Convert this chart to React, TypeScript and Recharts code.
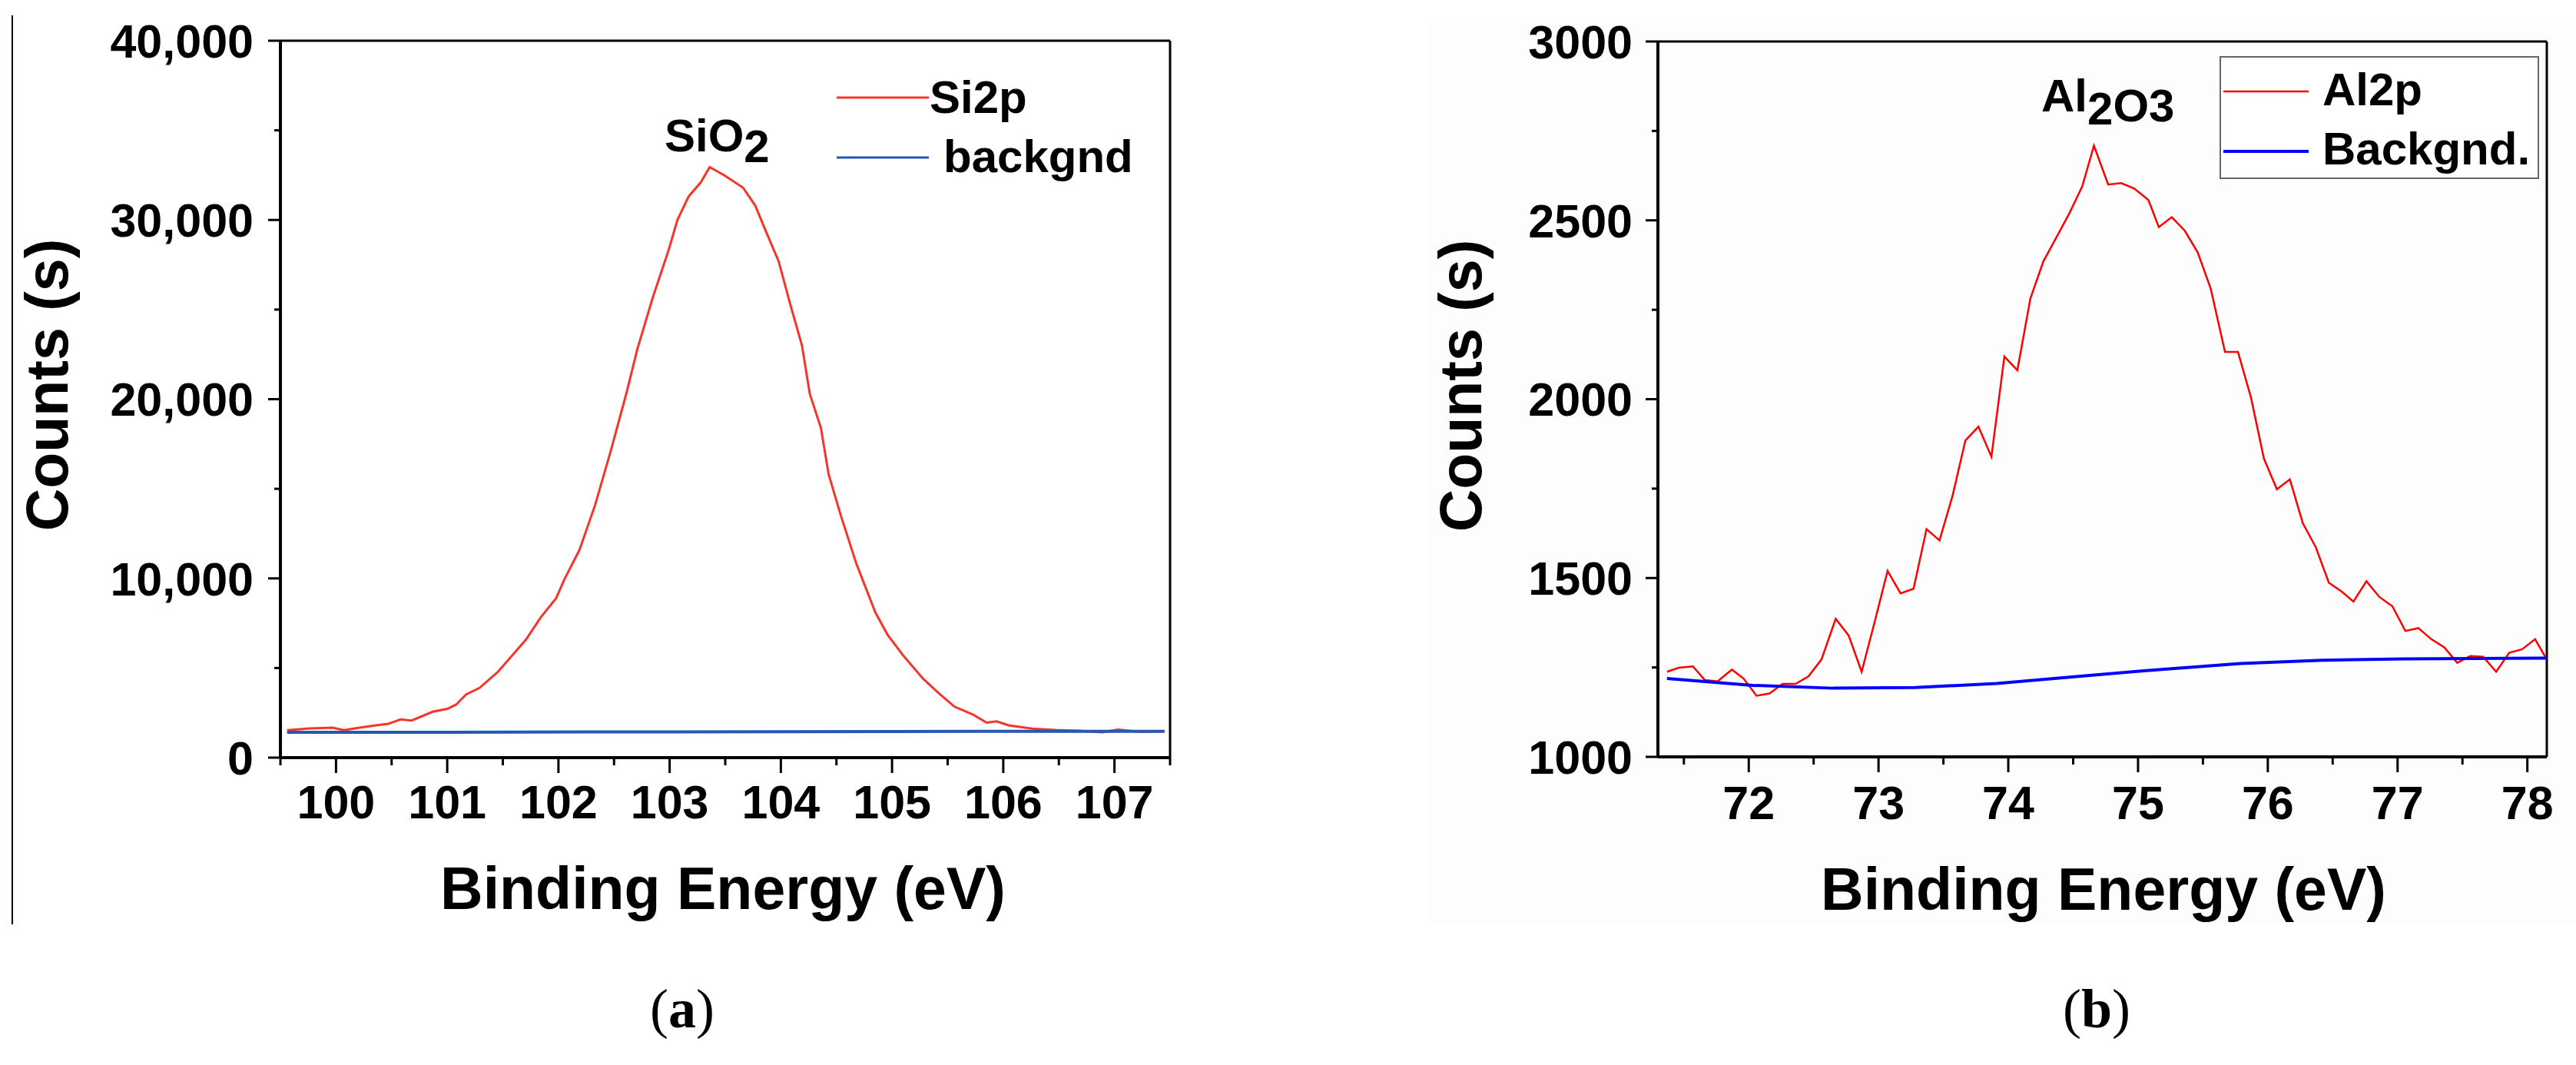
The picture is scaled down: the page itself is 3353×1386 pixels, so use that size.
import React from 'react';
import { LineChart, Line, XAxis, YAxis, ReferenceLine, Legend } from 'recharts';

// ---- panel (a): Si2p ----
const siEnergy = [
  99.56, 99.76, 99.97, 100.07, 100.21, 100.37, 100.47, 100.58, 100.68, 100.87,
  101.0, 101.08, 101.17, 101.29, 101.45, 101.58, 101.71, 101.84, 101.98, 102.05,
  102.19, 102.33, 102.47, 102.61, 102.71, 102.85, 102.99, 103.07, 103.17, 103.28,
  103.36, 103.49, 103.66, 103.77, 103.87, 103.98, 104.08, 104.19, 104.26, 104.36,
  104.43, 104.54, 104.68, 104.85, 104.96, 105.1, 105.28, 105.42, 105.56, 105.73,
  105.85, 105.94, 106.05, 106.26, 106.47, 106.68, 106.89, 107.03, 107.24, 107.45,
];
const siCounts = [
  1530, 1630, 1670, 1530, 1670, 1815, 1890, 2130, 2070, 2560,
  2720, 2960, 3530, 3890, 4750, 5670, 6600, 7820, 8900, 9900,
  11600, 14100, 17100, 20300, 22800, 25700, 28300, 30000, 31300, 32100,
  32950, 32500, 31800, 30800, 29300, 27700, 25400, 23000, 20300, 18400,
  15800, 13500, 10800, 8100, 6850, 5700, 4400, 3600, 2850, 2400,
  1950, 2020, 1800, 1620, 1540, 1500, 1420, 1560, 1440, 1480,
];
const siBgEnergy = [99.56, 101.0, 103.0, 105.0, 107.45];
const siBgCounts = [1410, 1420, 1440, 1460, 1470];
const siXTicks = [99.5, 100, 100.5, 101, 101.5, 102, 102.5, 103, 103.5, 104, 104.5, 105, 105.5, 106, 106.5, 107, 107.5];
const siYTicks = [0, 5000, 10000, 15000, 20000, 25000, 30000, 35000, 40000];

// ---- panel (b): Al2p ----
const alEnergy = [
  71.37, 71.46, 71.57, 71.66, 71.76, 71.87, 71.96, 72.06, 72.16, 72.26,
  72.36, 72.46, 72.56, 72.67, 72.77, 72.87, 72.97, 73.07, 73.17, 73.27,
  73.37, 73.47, 73.57, 73.67, 73.77, 73.87, 73.97, 74.07, 74.17, 74.27,
  74.37, 74.47, 74.57, 74.66, 74.77, 74.87, 74.97, 75.08, 75.16, 75.26,
  75.36, 75.46, 75.56, 75.67, 75.77, 75.87, 75.97, 76.07, 76.17, 76.27,
  76.37, 76.47, 76.57, 76.66, 76.76, 76.86, 76.96, 77.06, 77.16, 77.26,
  77.36, 77.46, 77.56, 77.66, 77.76, 77.86, 77.96, 78.06, 78.15,
];
const alCounts = [
  1238, 1249, 1253, 1215, 1211, 1244, 1219, 1171, 1177, 1204,
  1204, 1225, 1272, 1386, 1339, 1238, 1377, 1520, 1457, 1470,
  1637, 1605, 1729, 1885, 1923, 1839, 2119, 2081, 2281, 2385,
  2452, 2519, 2595, 2709, 2600, 2604, 2589, 2557, 2481, 2509,
  2471, 2410, 2309, 2132, 2132, 2005, 1834, 1748, 1776, 1653,
  1586, 1487, 1462, 1434, 1491, 1447, 1421, 1352, 1360, 1329,
  1306, 1263, 1282, 1280, 1238, 1291, 1301, 1329, 1272,
];
const alBgEnergy = [71.37, 72.03, 72.65, 73.28, 73.91, 74.54, 75.16, 75.79, 76.42, 77.05, 78.15];
const alBgCounts = [1219, 1200, 1192, 1194, 1205, 1225, 1244, 1261, 1270, 1274, 1276];
const alXTicks = [71.5, 72, 72.5, 73, 73.5, 74, 74.5, 75, 75.5, 76, 76.5, 77, 77.5, 78];
const alYTicks = [1000, 1250, 1500, 1750, 2000, 2250, 2500, 2750, 3000];

const siData = siEnergy.map((e, i) => ({ e, c: siCounts[i] }));
const siBgData = siBgEnergy.map((e, i) => ({ e, c: siBgCounts[i] }));
const alData = alEnergy.map((e, i) => ({ e, c: alCounts[i] }));
const alBgData = alBgEnergy.map((e, i) => ({ e, c: alBgCounts[i] }));

const SANS = '"Liberation Sans", Arial, Helvetica, sans-serif';
const SERIF = '"Liberation Serif", "Times New Roman", serif';
const tickFont = { fontFamily: SANS, fontWeight: 700, fontSize: 61, fill: '#000' };
const titleFont = { fontFamily: SANS, fontWeight: 700, fontSize: 77, fill: '#000' };
const panelFont = { fontFamily: SERIF, fontSize: 72, fill: '#000' };

const makeXTick = (labelDy: number) => (props: any) => {
  const { x, y, payload } = props;
  const major = Number.isInteger(payload.value);
  return (
    <g>
      <line x1={x} x2={x} y1={y} y2={y + (major ? 20 : 10)} stroke="#000" strokeWidth={3} />
      {major && (
        <text x={x} y={y + labelDy} textAnchor="middle" style={tickFont}>
          {payload.value}
        </text>
      )}
    </g>
  );
};

const makeYTick = (step: number, gap: number, fmt: (v: number) => string) => (props: any) => {
  const { x, y, payload } = props;
  const major = payload.value % step === 0;
  return (
    <g>
      <line x1={x - (major ? 16 : 8)} x2={x} y1={y} y2={y} stroke="#000" strokeWidth={3} />
      {major && (
        <text x={x - gap} y={y} dy="0.36em" textAnchor="end" style={tickFont}>
          {fmt(payload.value)}
        </text>
      )}
    </g>
  );
};

const siLegend = (props: any) => (
  <svg width={420} height={170}>
    {(props.payload || []).map((p: any, i: number) => (
      <g key={p.value}>
        <line x1={0} x2={120} y1={47 + i * 78} y2={47 + i * 78} stroke={p.color} strokeWidth={3} />
        <text x={i === 0 ? 121 : 139} y={67 + i * 77} style={{ ...tickFont, fontSize: 60 }}>
          {p.value}
        </text>
      </g>
    ))}
  </svg>
);

const alLegend = (props: any) => (
  <svg width={416} height={160}>
    <rect x={1} y={1} width={414} height={158} fill="#fff" stroke="#666" strokeWidth={2} />
    {(props.payload || []).map((p: any, i: number) => (
      <g key={p.value}>
        <line x1={5} x2={116} y1={46 + i * 78} y2={46 + i * 78} stroke={p.color} strokeWidth={i === 0 ? 2.5 : 4} />
        <text x={134} y={64 + i * 77} style={{ ...tickFont, fontSize: 60 }}>
          {p.value}
        </text>
      </g>
    ))}
  </svg>
);

export default function App() {
  return (
    <div style={{ position: 'absolute', left: 0, top: 0, width: 3353, height: 1386, background: '#fff', overflow: 'hidden' }}>
      {/* page decorations underneath */}
      <svg width={3353} height={1386} style={{ position: 'absolute', left: 0, top: 0 }}>
        <line x1={16} x2={16} y1={20} y2={1203} stroke="#000" strokeWidth={2} />
        <rect x={1860} y={22} width={1493} height={1182} fill="#fdfdfd" />
      </svg>

      {/* (a) Si2p */}
      <div style={{ position: 'absolute', left: 0, top: 0 }}>
        <LineChart width={1600} height={1386} margin={{ top: 53, right: 77, bottom: 0, left: 0 }}>
          <XAxis
            type="number"
            dataKey="e"
            domain={[99.5, 107.5]}
            ticks={siXTicks}
            interval={0}
            height={400}
            allowDataOverflow
            tickSize={0}
            tickMargin={0}
            tickLine={false}
            axisLine={{ stroke: '#000', strokeWidth: 4 }}
            tick={makeXTick(79)}
          />
          <YAxis
            type="number"
            domain={[0, 40000]}
            ticks={siYTicks}
            interval={0}
            width={365}
            tickSize={0}
            tickMargin={0}
            tickLine={false}
            axisLine={{ stroke: '#000', strokeWidth: 4 }}
            tick={makeYTick(10000, 35, (v) => v.toLocaleString('en-US'))}
          />
          <ReferenceLine y={40000} stroke="#000" strokeWidth={3} />
          <ReferenceLine x={107.5} stroke="#000" strokeWidth={3} />
          <Legend
            layout="vertical"
            align="center"
            verticalAlign="middle"
            content={siLegend}
            wrapperStyle={{ left: 1089, top: 80, width: 420, height: 170 }}
          />
          <Line data={siData} dataKey="c" name="Si2p" type="linear" stroke="#f4362a" strokeWidth={3} dot={false} isAnimationActive={false} />
          <Line data={siBgData} dataKey="c" name="backgnd" type="linear" stroke="#2458b4" strokeWidth={4} dot={false} isAnimationActive={false} />
        </LineChart>
      </div>

      {/* (b) Al2p */}
      <div style={{ position: 'absolute', left: 1700, top: 0 }}>
        <LineChart width={1653} height={1386} margin={{ top: 54, right: 38, bottom: 0, left: 0 }}>
          <XAxis
            type="number"
            dataKey="e"
            domain={[71.3, 78.15]}
            ticks={alXTicks}
            interval={0}
            height={401}
            allowDataOverflow
            tickSize={0}
            tickMargin={0}
            tickLine={false}
            axisLine={{ stroke: '#000', strokeWidth: 4 }}
            tick={makeXTick(81)}
          />
          <YAxis
            type="number"
            domain={[1000, 3000]}
            ticks={alYTicks}
            interval={0}
            width={458}
            tickSize={0}
            tickMargin={0}
            tickLine={false}
            axisLine={{ stroke: '#000', strokeWidth: 4 }}
            tick={makeYTick(500, 33, (v) => String(v))}
          />
          <ReferenceLine y={3000} stroke="#000" strokeWidth={3} />
          <ReferenceLine x={78.15} stroke="#000" strokeWidth={3} />
          <Legend
            layout="vertical"
            align="center"
            verticalAlign="middle"
            content={alLegend}
            wrapperStyle={{ left: 1189, top: 73, width: 416, height: 160 }}
          />
          <Line data={alData} dataKey="c" name="Al2p" type="linear" stroke="#ff0000" strokeWidth={2.5} dot={false} isAnimationActive={false} />
          <Line data={alBgData} dataKey="c" name="Backgnd." type="linear" stroke="#0000ff" strokeWidth={4} dot={false} isAnimationActive={false} />
        </LineChart>
      </div>

      {/* titles, annotations and panel labels */}
      <svg width={3353} height={1386} style={{ position: 'absolute', left: 0, top: 0, pointerEvents: 'none' }}>
        <text transform="translate(88,501) rotate(-90)" textAnchor="middle" style={titleFont}>Counts (s)</text>
        <text x={941} y={1183} textAnchor="middle" style={titleFont}>Binding Energy (eV)</text>
        <text x={865} y={197} style={{ ...tickFont, fontSize: 60 }}>
          SiO<tspan dy={14}>2</tspan>
        </text>
        <text x={888} y={1337} textAnchor="middle" style={panelFont}>
          (<tspan fontWeight={700}>a</tspan>)
        </text>

        <text transform="translate(1928,502) rotate(-90)" textAnchor="middle" style={titleFont}>Counts (s)</text>
        <text x={2738} y={1184} textAnchor="middle" style={titleFont}>Binding Energy (eV)</text>
        <text x={2657} y={145} style={{ ...tickFont, fontSize: 60 }}>
          Al<tspan dy={17}>2</tspan><tspan dy={-4}>O</tspan><tspan>3</tspan>
        </text>
        <text x={2729} y={1337} textAnchor="middle" style={panelFont}>
          (<tspan fontWeight={700}>b</tspan>)
        </text>
      </svg>
    </div>
  );
}
